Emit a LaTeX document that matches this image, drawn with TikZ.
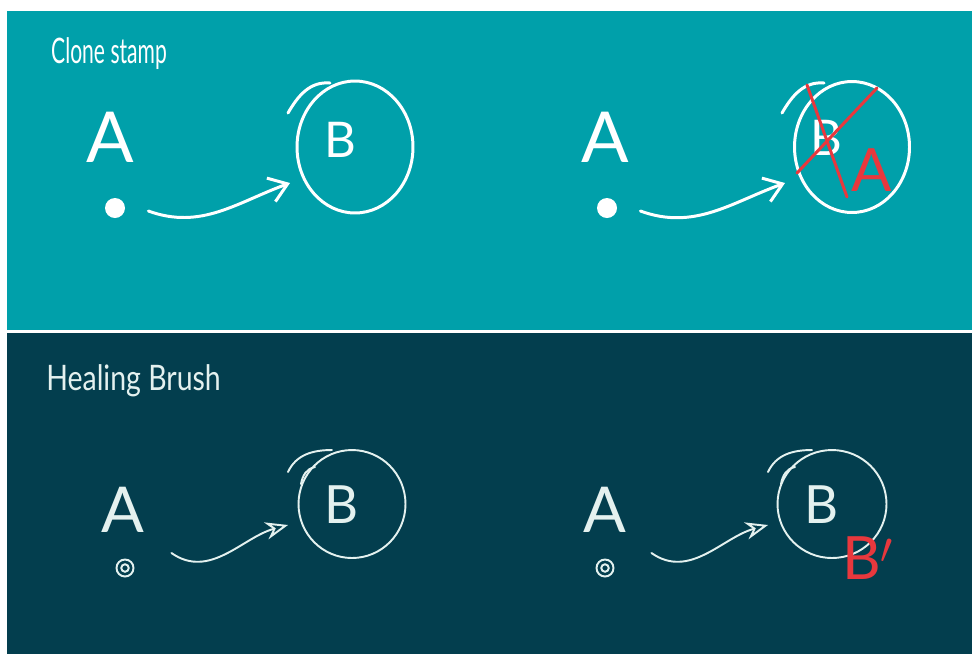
\documentclass[tikz,border=0pt]{standalone}
\usepackage{fontspec}
\setmainfont{Lato}
\usepackage{tikz}
\usetikzlibrary{arrows.meta, positioning, calc, shapes}

\definecolor{tealbg}{HTML}{00A0AA}
\definecolor{darkbg}{HTML}{033E4E}
\definecolor{inkred}{HTML}{E8383D}
\definecolor{chalk}{HTML}{E4F1EF}

\tikzset{
  ink/.style={draw=white, line width=1.7pt, line cap=round},
  chalkink/.style={draw=chalk, line width=1.1pt, line cap=round},
  redink/.style={draw=inkred, line width=1.7pt, line cap=round},
  letter/.style={text=white, inner sep=0pt},
  title/.style={text=white, inner sep=0pt, font=\fontsize{20}{20}\selectfont, xscale=0.6},
}

\begin{document}
\begin{tikzpicture}[x=0.02cm, y=-0.02cm]
    \useasboundingbox (0,0) rectangle (972,654);
    \fill[white] (0,0) rectangle (972,654);
    \fill[tealbg] (7,11) rectangle (972,330);
    \fill[darkbg] (7,333) rectangle (972,654);

    % Clone stamp
    \node[title, anchor=base west] (t1) at (51,63) {Clone stamp};

    \node[letter, font=\fontsize{40}{40}\selectfont] (A1) at (110,137) {A};
    \node[circle, fill=white, minimum size=0.4cm, inner sep=0pt] (dot1) at (115,208) {};
    \node[ellipse, ink, minimum width=2.32cm, minimum height=2.64cm] (B1) at (355,147) {};
    \node[letter, font=\fontsize{28}{28}\selectfont] (b1) at (340,140) {B};
    \draw[ink] ([shift={(-67,-34)}]B1.center) to[out=60,in=175] ([shift={(-25,-64)}]B1.center);
    \draw[ink, -{Straight Barb[length=3.5mm, width=5mm]}]
        ([xshift=0.46cm, yshift=-0.06cm]dot1.east) to[out=-20, in=200] ([shift={(-65,36)}]B1.center);

    \node[letter, font=\fontsize{40}{40}\selectfont] (A2) at (605,137) {A};
    \node[circle, fill=white, minimum size=0.4cm, inner sep=0pt] (dot2) at (607,208) {};
    \node[ellipse, ink, minimum width=2.3cm, minimum height=2.62cm] (B2) at (852,147) {};
    \node[letter, font=\fontsize{28}{28}\selectfont] (b2) at (826,138) {B};
    \draw[ink] ([shift={(-70,-34)}]B2.center) to[out=60,in=175] ([shift={(-28,-64)}]B2.center);
    \draw[ink, -{Straight Barb[length=3.5mm, width=5mm]}]
        ([xshift=0.46cm, yshift=-0.06cm]dot2.east) to[out=-20, in=200] ([shift={(-67,36)}]B2.center);
    % crossed out
    \draw[redink] (807,85) -- (847,197);
    \draw[redink] (877,88) -- (797,173);
    \node[letter, text=inkred, font=\fontsize{34}{34}\selectfont] (a2) at (872,170) {A};

    % Healing Brush
    \node[title, text=chalk, anchor=base west, xscale=1.35] (t2) at (46,390) {Healing Brush};

    \node[letter, text=chalk, font=\fontsize{36}{36}\selectfont] (A3) at (123,510) {A};
    \node[circle, chalkink, minimum size=0.34cm, inner sep=0pt] (dot3) at (125,568) {};
    \node[circle, chalkink, minimum size=0.15cm, inner sep=0pt] at (dot3) {};
    \node[ellipse, chalkink, minimum width=2.14cm, minimum height=2.16cm] (B3) at (352,504) {};
    \node[letter, text=chalk, font=\fontsize{30}{30}\selectfont] (b3) at (342,505) {B};
    \draw[chalkink] ([shift={(-64,-32)}]B3.center) to[out=65,in=180] ([shift={(-20,-54)}]B3.center);
    \draw[chalkink] ([shift={(-37,-37)}]B3.center) to[out=190,in=80] ([shift={(-51,-20)}]B3.center);
    \draw[chalkink, -{Stealth[open, length=4.5mm, width=3.5mm]}]
        ([xshift=0.74cm, yshift=0.3cm]dot3.east) to[out=-35, in=195] ([shift={(-64,21)}]B3.center);

    \node[letter, text=chalk, font=\fontsize{36}{36}\selectfont] (A4) at (605,510) {A};
    \node[circle, chalkink, minimum size=0.34cm, inner sep=0pt] (dot4) at (605,568) {};
    \node[circle, chalkink, minimum size=0.15cm, inner sep=0pt] at (dot4) {};
    \node[ellipse, chalkink, minimum width=2.18cm, minimum height=2.16cm] (B4) at (832,504) {};
    \node[letter, text=chalk, font=\fontsize{30}{30}\selectfont] (b4) at (822,505) {B};
    \draw[chalkink] ([shift={(-64,-32)}]B4.center) to[out=65,in=180] ([shift={(-20,-54)}]B4.center);
    \draw[chalkink] ([shift={(-37,-37)}]B4.center) to[out=190,in=80] ([shift={(-51,-20)}]B4.center);
    \draw[chalkink, -{Stealth[open, length=4.5mm, width=3.5mm]}]
        ([xshift=0.74cm, yshift=0.3cm]dot4.east) to[out=-35, in=195] ([shift={(-64,21)}]B4.center);
    \node[letter, text=inkred, font=\fontsize{34}{34}\selectfont] (b4p) at (868,558) {B$'$};
\end{tikzpicture}
\end{document}
